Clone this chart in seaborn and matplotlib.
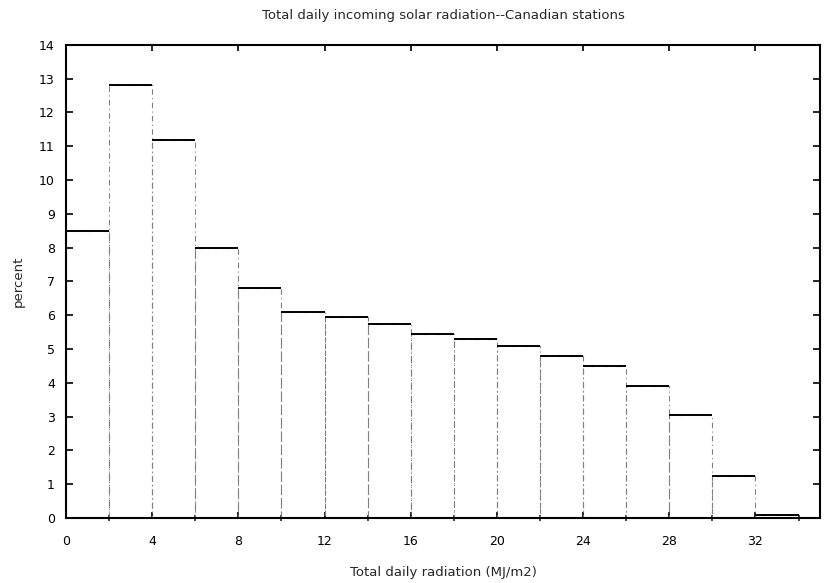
import numpy as np
import pandas as pd
import matplotlib
matplotlib.use("Agg")
import matplotlib.pyplot as plt
import seaborn as sns
from matplotlib.ticker import MultipleLocator

# Histogram bins of daily radiation (MJ/m2) and share of days in each bin (%)
bin_edges = [0, 2, 4, 6, 8, 10, 12, 14, 16, 18, 20, 22, 24, 26, 28, 30, 32, 34]
percent = [8.5, 12.8, 11.2, 8.0, 6.8, 6.1, 5.95, 5.75, 5.45, 5.3,
           5.1, 4.8, 4.5, 3.9, 3.05, 1.25, 0.08]
x_ticks = [0, 4, 8, 12, 16, 20, 24, 28, 32]
y_ticks = list(range(0, 15))

edges = np.array(bin_edges, dtype=float)
centers = (edges[:-1] + edges[1:]) / 2
df = pd.DataFrame({"radiation": centers, "percent": percent})

sns.set_style("ticks")
plt.rcParams["font.family"] = ["DejaVu Sans"]

fig = plt.figure(figsize=(8.25, 5.83), dpi=100)
ax = fig.add_axes([0.08, 0.1115, 0.914, 0.8115])

# bar outlines (faint dash-dot verticals)
sns.histplot(data=df, x="radiation", weights="percent", bins=list(bin_edges),
             fill=False, element="bars", ax=ax, color="0.5",
             linewidth=0.8, linestyle=(0, (5, 3, 1, 3)))
# solid bar tops
ax.hlines(percent, edges[:-1], edges[1:], colors="black", linewidth=1.4)

ax.set_xlim(0, 35)
ax.set_ylim(0, 14)
ax.set_xticks(x_ticks)
ax.xaxis.set_minor_locator(MultipleLocator(2))
ax.set_yticks(y_ticks)

for side in ["left", "bottom", "top", "right"]:
    ax.spines[side].set_visible(True)
    ax.spines[side].set_linewidth(1.5)
    ax.spines[side].set_color("black")

ax.tick_params(axis="both", which="major", direction="inout", length=7,
               width=1.2, labelsize=9, colors="black")
ax.tick_params(axis="x", which="major", pad=12)
ax.tick_params(axis="y", which="major", pad=8)
ax.tick_params(axis="x", which="minor", direction="inout", length=5, width=1.2)
ax.tick_params(axis="y", right=True, which="major", direction="in", length=5)
ax.tick_params(axis="x", top=True, which="major", direction="in", length=4)
ax.tick_params(axis="x", top=False, which="minor")
ax.tick_params(axis="y", labelright=False)

ax.set_title("Total daily incoming solar radiation--Canadian stations",
             fontsize=9.5, pad=19)
ax.set_xlabel("Total daily radiation (MJ/m2)", fontsize=9.5, labelpad=13)
ax.set_ylabel("percent", fontsize=9.5, labelpad=10)

fig.savefig("out.png", dpi=100, facecolor="white")
